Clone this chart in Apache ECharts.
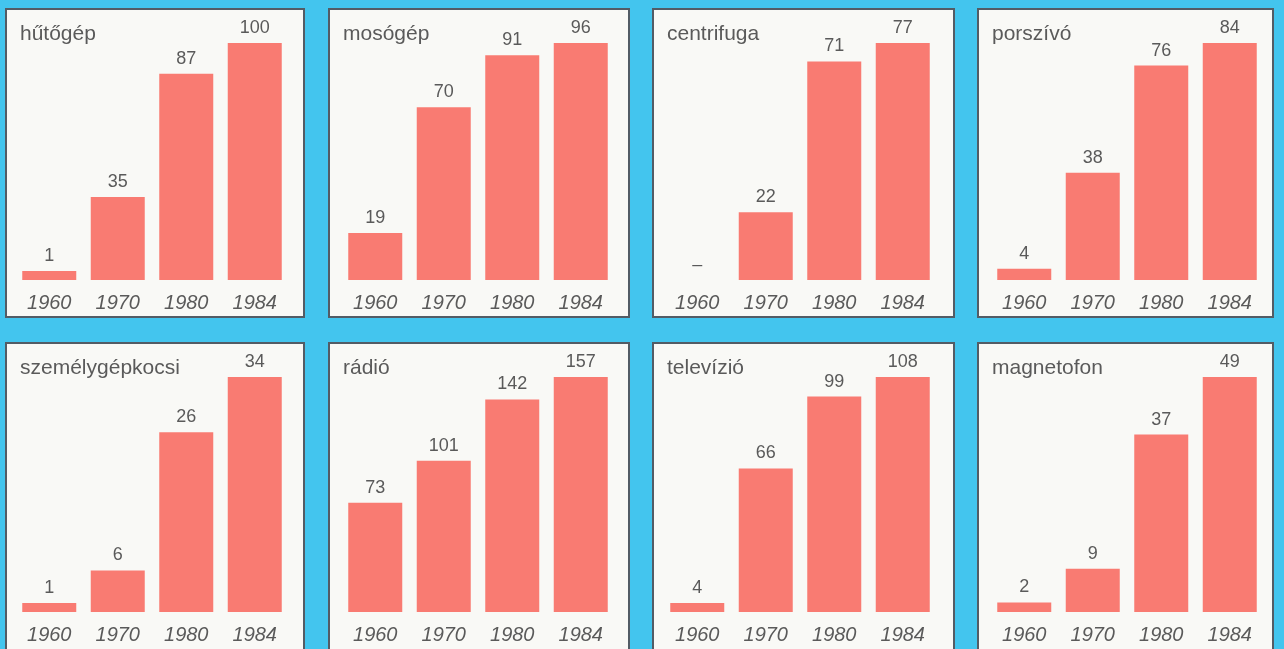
<!DOCTYPE html>
<html>
<head>
<meta charset="utf-8">
<script src="https://cdn.jsdelivr.net/npm/echarts@6/dist/echarts.min.js"></script>
<style>
  html, body { margin: 0; padding: 0; }
  body {
    width: 1284px; height: 649px; position: relative; overflow: hidden;
    background: #43c5ee;
  }
  .panel {
    position: absolute; box-sizing: border-box;
    background: #f9f9f6; border: 2px solid #535c65;
  }
  .panel .chart { position: absolute; left: 0; top: 0; right: 0; bottom: 0; }
</style>
</head>
<body>
<script>
// Years on every small chart
const years = ['1960', '1970', '1980', '1984'];

// Stock per 100 households, one array per appliance
const hutogep        = [1, 35, 87, 100];
const mosogep        = [19, 70, 91, 96];
const centrifuga     = [0, 22, 71, 77];   // 0 = no data, shown as a dash
const porszivo       = [4, 38, 76, 84];
const szemelyauto    = [1, 6, 26, 34];
const radio          = [73, 101, 142, 157];
const televizio      = [4, 66, 99, 108];
const magnetofon     = [2, 9, 37, 49];

const titles = [
  'hűtőgép', 'mosógép', 'centrifuga', 'porszívó',
  'személygépkocsi', 'rádió', 'televízió', 'magnetofon'
];
const seriesValues = [
  hutogep, mosogep, centrifuga, porszivo,
  szemelyauto, radio, televizio, magnetofon
];

// Panel placement on the blue board
const colLeft  = [5, 328, 652, 977];
const colWidth = [300, 302, 303, 297];
const rowTop   = [8, 342];
const rowHeight = [310, 312];
const gridLeft = [8, 11, 9, 11];
const gridHeight = [237, 235];

const FONT = '"Liberation Sans", Arial, Helvetica, sans-serif';
const TEXT = '#5a5a5a';
const BAR = '#f97b72';

seriesValues.forEach((vals, i) => {
  const col = i % 4, row = Math.floor(i / 4);
  const panel = document.createElement('div');
  panel.className = 'panel';
  panel.style.left = colLeft[col] + 'px';
  panel.style.top = rowTop[row] + 'px';
  panel.style.width = colWidth[col] + 'px';
  panel.style.height = rowHeight[row] + 'px';
  const box = document.createElement('div');
  box.className = 'chart';
  panel.appendChild(box);
  document.body.appendChild(panel);

  const chart = echarts.init(box, null, { renderer: 'canvas' });
  chart.setOption({
    animation: false,
    backgroundColor: 'transparent',
    title: {
      text: titles[i], left: 8, top: 9,
      textStyle: { fontFamily: FONT, fontSize: 21, fontWeight: 'normal', color: TEXT }
    },
    grid: { left: gridLeft[col], width: 274, top: 33, height: gridHeight[row] },
    xAxis: {
      type: 'category', data: years,
      axisLine: { show: false }, axisTick: { show: false },
      axisLabel: {
        margin: 13, fontFamily: FONT, fontSize: 20, fontStyle: 'italic', color: TEXT
      }
    },
    yAxis: {
      type: 'value', min: 0, max: 'dataMax', show: false,
      splitLine: { show: false }
    },
    series: [{
      type: 'bar', data: vals, barWidth: 54,
      barMinHeight: vals.includes(0) ? 0 : 9,
      itemStyle: { color: BAR },
      label: {
        show: true, position: 'top', distance: 6,
        fontFamily: FONT, fontSize: 18, color: TEXT,
        formatter: p => (p.value === 0 ? '–' : String(p.value))
      }
    }]
  });
});
</script>
</body>
</html>
